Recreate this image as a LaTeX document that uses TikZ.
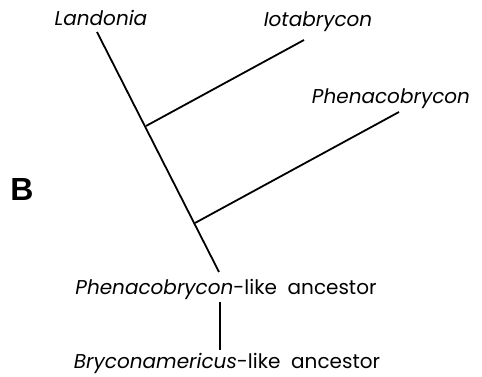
\documentclass[tikz,border=0pt]{standalone}
\usepackage{fontspec}
\setmainfont{Poppins}
\newfontfamily\labfont{Liberation Sans}
\usetikzlibrary{positioning}

\begin{document}
\begin{tikzpicture}[x=1pt,y=1pt,font=\fontsize{20}{24}\selectfont,
  taxon/.style={inner sep=0pt,font=\fontsize{20}{24}\selectfont\itshape},
  stem/.style={line width=1.8pt}]
\useasboundingbox (0,0) rectangle (482,377);
\node[taxon] (lan) at (101,359) {Landonia};
\node[taxon] (iota) at (318,355) {Iotabrycon};
\node[taxon] (phen) at (391,278) {Phenacobrycon};
\node[inner sep=0pt,font=\labfont\bfseries\fontsize{32}{34}\selectfont] (lab) at (22,188) {B};
\node[inner sep=0pt] (anc1) at (226,88) {\textit{Phenacobrycon}-like\ \ ancestor};
\node[inner sep=0pt] (anc2) at (227,14) {\textit{Bryconamericus}-like\ \ ancestor};
% branch ends and forks
\coordinate (top) at (97,345);
\coordinate (root) at (219,105);
\coordinate (k1) at (146,251);
\coordinate (k2) at (195,154);
\coordinate (tipi) at (304,337);
\coordinate (tipp) at (399,265);
\coordinate (v) at (220,0);
\draw[stem] (top) -- (root);
\draw[stem] (k1) -- (tipi);
\draw[stem] (k2) -- (tipp);
\draw[stem] ([yshift=-3pt]anc1.south -| v) -- ([yshift=3pt]anc2.north -| v);
\end{tikzpicture}
\end{document}
